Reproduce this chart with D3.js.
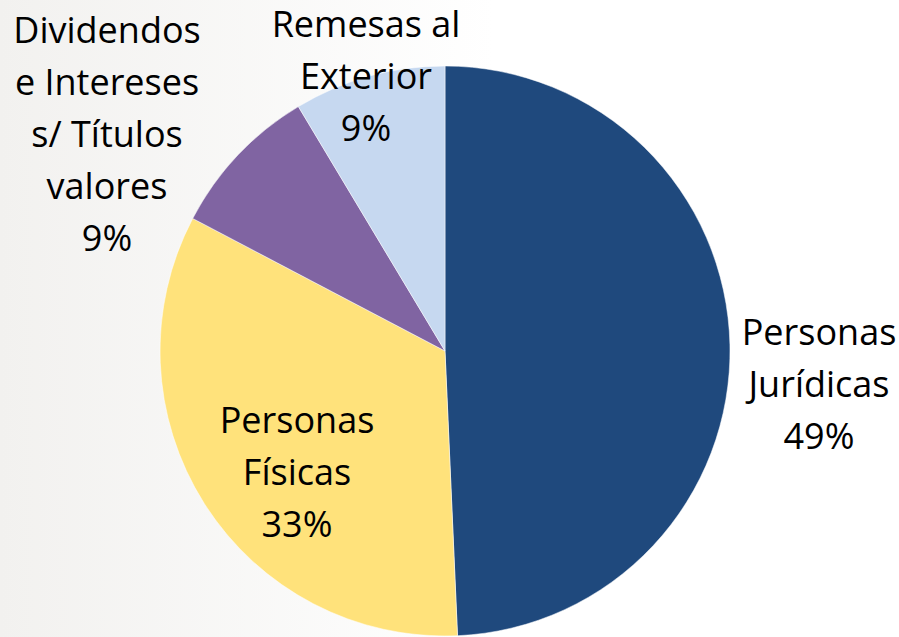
<!DOCTYPE html>
<html>
<head>
<meta charset="utf-8">
<script src="https://cdn.jsdelivr.net/npm/d3@7"></script>
<style>
  html, body { margin: 0; padding: 0; }
  svg { display: block; }
</style>
</head>
<body>
<div id="chart"></div>
<script>
// categories, clockwise from 12 o'clock
const categories = [
  ["Personas", "Jurídicas"],
  ["Personas", "Físicas"],
  ["Dividendos", "e Intereses", "s/ Títulos", "valores"],
  ["Remesas al", "Exterior"]
];
// share of total (%)
const values = [49.3, 33.4, 8.7, 8.6];
const colors = ["#1f497d", "#ffe27b", "#8064a2", "#c6d8f0"];

const width = 899;
const height = 637;
const cx = 445;
const cy = 351;
const radius = 285;
const lineHeight = 52;

// label anchors relative to the pie centre (centre x, first baseline)
const labelOffsets = [[374, -6], [-148, 82], [-338, -308], [-79, -314]];

const svg = d3.select("#chart")
  .append("svg")
  .attr("width", width)
  .attr("height", height);

const defs = svg.append("defs");
const bg = defs.append("linearGradient")
  .attr("id", "bg")
  .attr("x1", "0%").attr("y1", "0%")
  .attr("x2", "100%").attr("y2", "0%");
bg.append("stop").attr("offset", "0%").attr("stop-color", "#f2f1ef");
bg.append("stop").attr("offset", "55%").attr("stop-color", "#ffffff");
bg.append("stop").attr("offset", "100%").attr("stop-color", "#ffffff");

svg.append("rect")
  .attr("width", width)
  .attr("height", height)
  .attr("fill", "url(#bg)");

const total = d3.sum(values);
const data = values.map((v, i) => ({ name: categories[i], value: v, color: colors[i] }));

const pie = d3.pie()
  .sort(null)
  .value((d) => d.value);

const arc = d3.arc()
  .innerRadius(0)
  .outerRadius(radius);

const g = svg.append("g")
  .attr("transform", "translate(" + cx + "," + cy + ")");

g.selectAll("path")
  .data(pie(data))
  .join("path")
  .attr("d", arc)
  .attr("fill", (d) => d.data.color)
  .attr("stroke", "#ffffff")
  .attr("stroke-width", 0.5);

// labels
const labels = g.selectAll("text.label")
  .data(data)
  .join("text")
  .attr("class", "label")
  .attr("text-anchor", "middle")
  .style("font-family", "'Open Sans', 'Noto Sans', sans-serif")
  .style("font-size", "36px")
  .attr("fill", "#000");

labels.each(function (d, i) {
  const t = d3.select(this);
  const [ox, oy] = labelOffsets[i];
  const lines = d.name.concat([Math.round(d.value / total * 100) + "%"]);
  lines.forEach((line, j) => {
    t.append("tspan")
      .attr("x", ox)
      .attr("y", oy + j * lineHeight)
      .text(line);
  });
});
</script>
</body>
</html>
